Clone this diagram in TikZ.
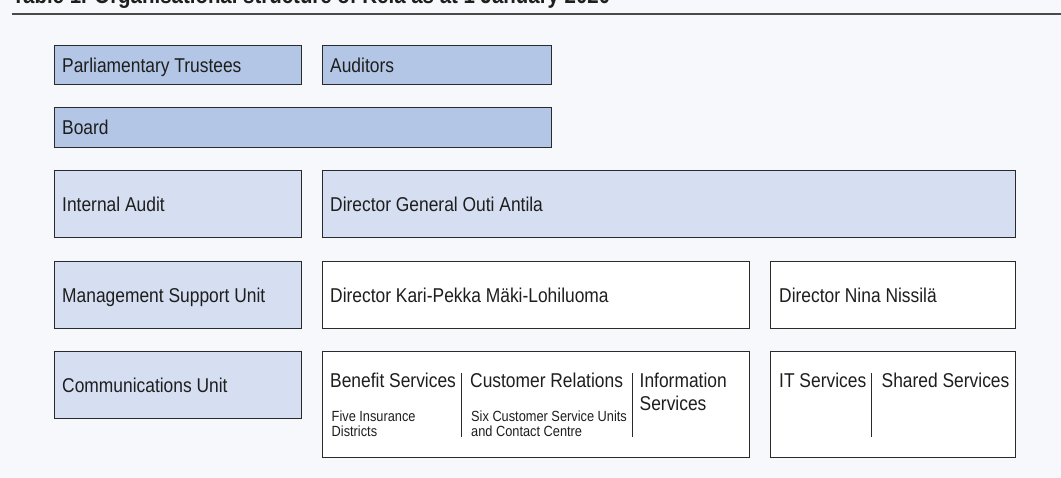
\documentclass[tikz,border=0pt]{standalone}
\usepackage{fontspec}
\setmainfont{Liberation Sans}[FakeStretch=0.87]
\definecolor{pagebg}{HTML}{F6F8FC}
\definecolor{topfill}{HTML}{B3C6E5}
\definecolor{midfill}{HTML}{D6DFF1}
\definecolor{edge}{HTML}{2A2A2A}
\definecolor{ink}{HTML}{1E1E1E}
\begin{document}
\begin{tikzpicture}[x=1pt,y=-1pt,
  unitbox/.style 2 args={draw=edge, line width=1.3pt, rectangle, anchor=north west,
    inner sep=0pt, minimum width=#1, minimum height=#2},
  upper/.style={fill=topfill},
  lower/.style={fill=midfill},
  plain/.style={fill=white},
  lbl/.style={anchor=west, inner sep=0pt, text=ink, text height=14.3pt, text depth=0pt,
    font=\fontsize{20}{22}\selectfont},
  head/.style={anchor=base west, inner sep=0pt, text=ink, font=\fontsize{20}{22}\selectfont},
  sub/.style={anchor=base west, inner sep=0pt, text=ink, font=\fontsize{14.7}{15}\selectfont},
  divider/.style={draw=edge, line width=1.2pt}]

% page and heading
\useasboundingbox (0,0) rectangle (1061,478);
\fill[pagebg] (0,0) rectangle (1061,478);
\node[anchor=base west, inner sep=0pt, text=ink, font=\bfseries\fontsize{23.5}{24}\selectfont]
  (title) at (12,4) {Table 1. Organisational structure of Kela as at 1 January 2020};
\coordinate (ruleL) at (12,14.5);
\coordinate (ruleR) at (1061,14.5);
\draw[draw=edge!85, line width=2pt] (ruleL) -- (ruleR);

% governing bodies
\node[unitbox={247pt}{39pt}, upper] (parl) at (54,45) {};
\node[lbl] at ([xshift=8pt]parl.west) {Parliamentary Trustees};
\node[unitbox={229pt}{39pt}, upper] (aud) at (322,45) {};
\node[lbl] at ([xshift=8pt]aud.west) {Auditors};
\node[unitbox={497pt}{40pt}, upper] (board) at (54,107) {};
\node[lbl] at ([xshift=8pt]board.west) {Board};

% management
\node[unitbox={247pt}{67pt}, lower] (ia) at (54,170) {};
\node[lbl] at ([xshift=8pt]ia.west) {Internal Audit};
\node[unitbox={693pt}{67pt}, lower] (dg) at (322,170) {};
\node[lbl] at ([xshift=8pt]dg.west) {Director General Outi Antila};

\node[unitbox={247pt}{67pt}, lower] (msu) at (54,261) {};
\node[lbl] at ([xshift=8pt]msu.west) {Management Support Unit};
\node[unitbox={427pt}{67pt}, plain] (kp) at (322,261) {};
\node[lbl] at ([xshift=8pt]kp.west) {Director Kari-Pekka Mäki-Lohiluoma};
\node[unitbox={245pt}{67pt}, plain] (nn) at (770,261) {};
\node[lbl] at ([xshift=9pt]nn.west) {Director Nina Nissilä};

% departments
\node[unitbox={247pt}{67pt}, lower] (cu) at (54,351) {};
\node[lbl] at ([xshift=8pt]cu.west) {Communications Unit};
\node[unitbox={427pt}{106pt}, plain] (ops) at (322,351) {};
\node[unitbox={245pt}{106pt}, plain] (its) at (770,351) {};

\node[head] (bs) at (330,388) {Benefit Services};
\node[sub] (bs1) at (331.5,421.5) {Five Insurance};
\node[sub] (bs2) at (331.5,436.5) {Districts};
\draw[divider] (461.3,373) -- (461.3,437);
\node[head] (cr) at (470,388) {Customer Relations};
\node[sub] (cr1) at (471,421.5) {Six Customer Service Units};
\node[sub] (cr2) at (471,436.5) {and Contact Centre};
\draw[divider] (632.7,373) -- (632.7,437);
\node[head] (is1) at (639.5,388) {Information};
\node[head] (is2) at (639.5,410) {Services};

\node[head] (it) at (779,388) {IT Services};
\draw[divider] (871.7,373) -- (871.7,437);
\node[head] (ss) at (881.5,388) {Shared Services};
\end{tikzpicture}
\end{document}
